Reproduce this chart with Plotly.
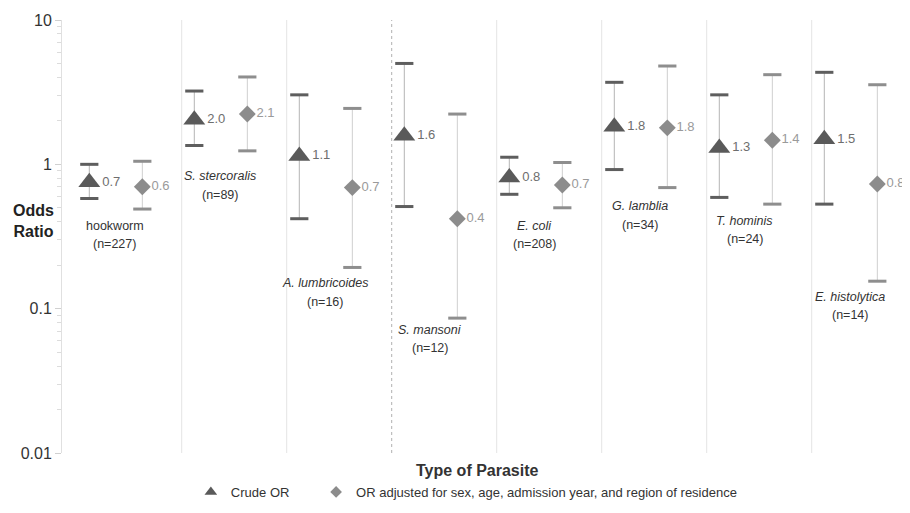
import math
import plotly.graph_objects as go

# ---- data ----
categories = ["hookworm", "S. stercoralis", "A. lumbricoides", "S. mansoni",
              "E. coli", "G. lamblia", "T. hominis", "E. histolytica"]
italic = [False, True, True, True, True, True, True, True]
n_cases = [227, 89, 16, 12, 208, 34, 24, 14]

crude_or = [0.75, 2.04, 1.14, 1.58, 0.81, 1.82, 1.30, 1.49]
crude_lo = [0.58, 1.35, 0.42, 0.51, 0.62, 0.92, 0.59, 0.53]
crude_hi = [1.00, 3.22, 3.03, 5.00, 1.12, 3.70, 3.03, 4.34]
crude_labels = ["0.7", "2.0", "1.1", "1.6", "0.8", "1.8", "1.3", "1.5"]

adj_or = [0.70, 2.23, 0.69, 0.42, 0.72, 1.79, 1.47, 0.73]
adj_lo = [0.49, 1.24, 0.193, 0.086, 0.50, 0.69, 0.53, 0.155]
adj_hi = [1.05, 4.03, 2.44, 2.23, 1.03, 4.80, 4.18, 3.56]
adj_labels = ["0.6", "2.1", "0.7", "0.4", "0.7", "1.8", "1.4", "0.8"]

# odds-ratio level at which each category label is centred
label_level = [0.324, 0.719, 0.130, 0.062, 0.324, 0.445, 0.353, 0.105]

y_ticks = [0.01, 0.1, 1, 10]
y_tick_text = ["0.01", "0.1", "1", "10"]

# ---- layout constants ----
FONT = "Arial, Liberation Sans, sans-serif"
OFF_CRUDE = -0.24
OFF_ADJ = 0.265
SEP_OFF = 0.64

idx = list(range(len(categories)))
x_crude = [i + OFF_CRUDE for i in idx]
x_adj = [i + OFF_ADJ for i in idx]

fig = go.Figure()

# stems
fig.add_trace(go.Scatter(
    x=x_crude, y=crude_or, mode="markers", marker=dict(size=1, opacity=0),
    error_y=dict(type="data", symmetric=False,
                 array=[h - v for h, v in zip(crude_hi, crude_or)],
                 arrayminus=[v - l for v, l in zip(crude_or, crude_lo)],
                 color="#b4b4b4", thickness=1, width=0),
    showlegend=False, hoverinfo="skip"))
fig.add_trace(go.Scatter(
    x=x_adj, y=adj_or, mode="markers", marker=dict(size=1, opacity=0),
    error_y=dict(type="data", symmetric=False,
                 array=[h - v for h, v in zip(adj_hi, adj_or)],
                 arrayminus=[v - l for v, l in zip(adj_or, adj_lo)],
                 color="#cfcfcf", thickness=1, width=0),
    showlegend=False, hoverinfo="skip"))

# caps
fig.add_trace(go.Scatter(
    x=x_crude + x_crude, y=crude_lo + crude_hi, mode="markers",
    marker=dict(symbol="line-ew", size=13, line=dict(width=3, color="#5e5e5e")),
    showlegend=False, hoverinfo="skip"))
fig.add_trace(go.Scatter(
    x=x_adj + x_adj, y=adj_lo + adj_hi, mode="markers",
    marker=dict(symbol="line-ew", size=13, line=dict(width=3, color="#8e8e8e")),
    showlegend=False, hoverinfo="skip"))

# point estimates
fig.add_trace(go.Scatter(
    x=x_crude, y=crude_or, mode="markers+text", name="Crude OR",
    marker=dict(symbol="triangle-up", size=19, color="#5a5a5a"),
    text=crude_labels, textposition="middle right", cliponaxis=False,
    textfont=dict(family=FONT, size=13, color="#6e6e6e"), showlegend=False))
fig.add_trace(go.Scatter(
    x=x_adj, y=adj_or, mode="markers+text",
    name="OR adjusted for sex, age, admission year, and region of residence",
    marker=dict(symbol="diamond", size=13, color="#8c8c8c"),
    text=adj_labels, textposition="middle right", cliponaxis=False,
    textfont=dict(family=FONT, size=13, color="#9a9a9a"), showlegend=False))

# legend entries (two separate legends to reproduce the spacing)
fig.add_trace(go.Scatter(
    x=[None], y=[None], mode="markers", name="Crude OR", legend="legend",
    marker=dict(symbol="triangle-up", size=11, color="#5a5a5a")))
fig.add_trace(go.Scatter(
    x=[None], y=[None], mode="markers", legend="legend2",
    name="OR adjusted for sex, age, admission year, and region of residence",
    marker=dict(symbol="diamond", size=9, color="#8c8c8c")))

# separators
shapes = []
for i in idx[:-1]:
    dotted = (i == 2)
    shapes.append(dict(type="line", xref="x", yref="paper",
                       x0=i + SEP_OFF, x1=i + SEP_OFF, y0=0, y1=1,
                       line=dict(color="#b0b0b0" if dotted else "#e4e4e4",
                                 width=1, dash="dot" if dotted else "solid"),
                       layer="below"))

annotations = []
for i, (name, it, n, lv) in enumerate(zip(categories, italic, n_cases, label_level)):
    nm = f"<i>{name}</i>" if it else name
    annotations.append(dict(x=i, y=math.log10(lv), xref="x", yref="y", yanchor="middle",
                            text=nm, showarrow=False, yshift=9,
                            font=dict(family=FONT, size=12.5, color="#333333")))
    annotations.append(dict(x=i, y=math.log10(lv), xref="x", yref="y", yanchor="middle",
                            text=f"(n={n})", showarrow=False, yshift=-9.5,
                            font=dict(family=FONT, size=12.5, color="#333333")))
annotations.append(dict(x=-0.0345, y=0.535, xref="paper", yref="paper",
                        xanchor="center", yanchor="middle",
                        text="<b>Odds<br>Ratio</b>", showarrow=False, align="center",
                        font=dict(family=FONT, size=16, color="#222222")))
annotations.append(dict(x=0.495, y=-0.04, xref="paper", yref="paper",
                        text="<b>Type of Parasite</b>", showarrow=False,
                        yanchor="middle",
                        font=dict(family=FONT, size=16, color="#333333")))

legend_common = dict(orientation="h", yanchor="middle", y=-0.09,
                     xanchor="left", bgcolor="rgba(0,0,0,0)",
                     font=dict(family=FONT, size=13, color="#333333"),
                     itemsizing="trace")

fig.update_layout(
    width=902, height=505,
    margin=dict(l=54, r=8, t=12, b=60, autoexpand=False),
    paper_bgcolor="white", plot_bgcolor="white",
    font=dict(family=FONT, color="#333333"),
    shapes=shapes, annotations=annotations,
    legend=dict(x=0.1534, **legend_common),
    legend2=dict(x=0.3025, **legend_common),
    xaxis=dict(range=[-0.5, 7.5], showgrid=False, zeroline=False,
               showticklabels=False, showline=False, ticks=""),
    yaxis=dict(type="log", range=[-2, 1], tickvals=y_ticks, ticktext=y_tick_text,
               showgrid=False, zeroline=False, showline=True, linecolor="#e0e0e0",
               ticks="outside", ticklen=6, tickcolor="#d0d0d0",
               tickfont=dict(family=FONT, size=16, color="#333333"),
               minor=dict(ticks="outside", ticklen=4, tickcolor="#dcdcdc",
                          dtick="D1", showgrid=False)),
)

fig.write_html("out.html")
